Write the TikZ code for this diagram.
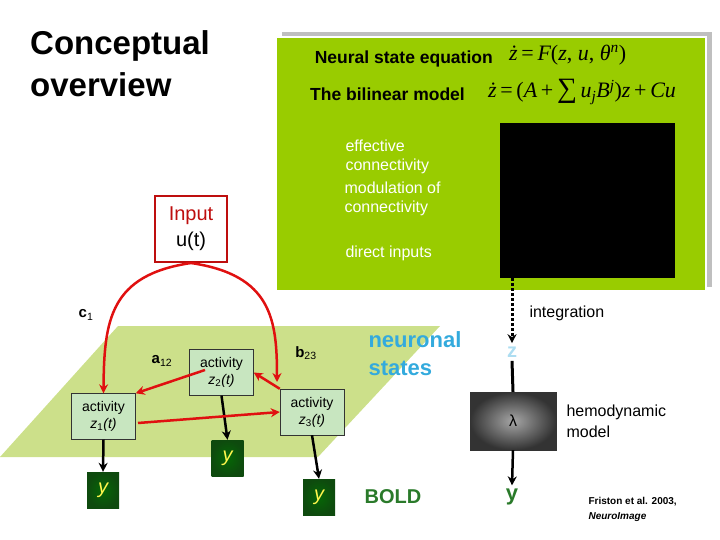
\documentclass[tikz,border=0pt]{standalone}
\usepackage{fontspec}
\setmainfont{Liberation Sans}
\newfontfamily\tms{Liberation Serif}
\usetikzlibrary{arrows.meta}
\definecolor{lime}{HTML}{99CC00}
\definecolor{plane}{HTML}{CCE08A}
\definecolor{boxg}{HTML}{C8E6C0}
\definecolor{ygreen}{HTML}{0E4A0E}
\definecolor{nblue}{HTML}{33AADD}
\definecolor{bgreen}{HTML}{2A7A2A}
\definecolor{ired}{HTML}{E01010}
\newcommand{\zz}[1]{\textit{z}\textsubscript{#1}\textit{(t)}}
\begin{document}
\begin{tikzpicture}[x=1pt,y=-1pt,
  act/.style={draw=black!80,fill=boxg,minimum width=64,minimum height=46,align=center,inner sep=1pt,font=\fontsize{14}{17}\selectfont},
  ybox/.style={inner color=ygreen!60!green!70!black,outer color=ygreen,minimum width=32,minimum height=36,inner sep=0pt,text=yellow!70!white,font=\fontsize{20}{20}\selectfont\itshape},
  red/.style={draw=ired,line width=2.5pt,-{Stealth[length=9pt,width=9pt]}},
  blk/.style={draw=black,line width=2.5pt,-{Stealth[length=9pt,width=9pt]}},
  wt/.style={text=white,align=left,anchor=west,font=\fontsize{16}{19.5}\selectfont},
  eqs/.style={anchor=west,font=\fontsize{22}{22}\selectfont\tms\itshape,inner sep=0},
  lbl/.style={font=\fontsize{15}{16}\selectfont\bfseries}]
\useasboundingbox (0,0) rectangle (720,540);
\node[anchor=north west,align=left,font=\fontsize{33}{42}\selectfont\bfseries,inner sep=0] (title) at (30,30) {Conceptual\\overview};
% panel
\fill[gray!50] (282,32) rectangle (712,287);
\fill[white] (277,36) rectangle (707,291);
\fill[lime] (277,38) rectangle (705,290);
\node[font=\fontsize{17.5}{18}\selectfont\bfseries,anchor=east,inner sep=1pt] (nse) at (494,59) {Neural state equation};
\node[eqs] (eq1) at (509,55) {ż\,\upshape=\,\itshape F\upshape(\itshape z\upshape, \itshape u\upshape, \itshape θ\textsuperscript{n}\upshape)};
\node[font=\fontsize{17.5}{18}\selectfont\bfseries,anchor=east,inner sep=1pt] (blm) at (466,94) {The bilinear model};
\node[eqs] (eq2) at (488,92) {ż\,\upshape=\,(\itshape A\upshape\,+\,{\fontsize{28}{28}\selectfont ∑}\,\itshape u\textsubscript{j}B\textsuperscript{j}\upshape)\itshape z\upshape\,+\,\itshape Cu};
\node[fill=black,minimum width=175,minimum height=155,inner sep=0,anchor=north west] (mat) at (500,123) {};
\node[wt] (ec) at (342,157) {effective\\connectivity};
\node[wt] (mc) at (341,199) {modulation of\\connectivity};
\node[wt] (di) at (342,253) {direct inputs};
% right chain
\node[text=nblue!40!white,font=\fontsize{20}{20}\selectfont\bfseries] (z) at (512,352) {z};
\draw[line width=3pt,dotted,-{Stealth[length=9pt,width=9pt]}] (mat.south -| z) -- (z.north);
\node[anchor=west,font=\fontsize{16}{18}\selectfont] (integ) at (526,313) {integration};
\node[draw=black!80,inner color=gray!70,outer color=black!80,minimum width=86,minimum height=58,inner sep=0,font=\fontsize{16}{16}\selectfont] (lam) at (513,421) {λ};
\draw[line width=3pt] (z.south) -- (lam.north);
\node[text=bgreen,font=\fontsize{22}{22}\selectfont\bfseries] (yo) at (512,497) {y};
\draw[blk] (lam.south) -- (yo.north);
\node[anchor=west,align=left,font=\fontsize{16}{21}\selectfont] (hm) at (563,421) {hemodynamic\\model};
\node[anchor=west,align=left,font=\fontsize{10}{15}\selectfont\bfseries] (fr) at (585,509) {Friston et al. 2003,\\\textit{NeuroImage}};
% plane
\fill[plane] (118,326) -- (440,326) -- (318,457) -- (0,457) -- cycle;
\node[act] (z1) at (103.5,416.5) {activity\\\zz{1}};
\node[act] (z2) at (221.5,372.5) {activity\\\zz{2}};
\node[act] (z3) at (312,412) {activity\\\zz{3}};
\node[ybox] (y1) at (103,490) {y};
\node[ybox] (y2) at (227.5,458) {y};
\node[ybox] (y3) at (319,497) {y};
\draw[blk] (z1.south) -- (y1.north);
\draw[blk] (z2.south) -- (y2.north);
\draw[blk] (z3.south) -- (y3.north);
\node[anchor=west,text=nblue,align=left,font=\fontsize{22}{28}\selectfont\bfseries] (ns) at (365,354) {neuronal\\states};
\node[text=bgreen,font=\fontsize{20}{20}\selectfont\bfseries] (bold) at (393,497) {BOLD};
% input
\node[draw=ired!85!black,line width=2pt,minimum width=72,minimum height=66,inner sep=0,align=center,font=\fontsize{20}{26}\selectfont] (in) at (191,229) {\textcolor{ired!85!black}{Input}\\u(t)};
\draw[red] (in.south) .. controls (110,275) and (104,320) .. (z1.north);
\draw[red] (in.south) .. controls (272,275) and (277,320) .. (277,382);
\draw[red] (205,370) -- (z1.north east);
\draw[red] (138,423) -- (z3.west);
\draw[red] (z3.north west) -- (z2.east);
\node[lbl] (c1) at (86,315) {c\textsubscript{\mdseries 1}};
\node[lbl] (a12) at (162,361) {a\textsubscript{\mdseries 12}};
\node[lbl] (b23) at (306,353) {b\textsubscript{\mdseries 23}};
\end{tikzpicture}
\end{document}
